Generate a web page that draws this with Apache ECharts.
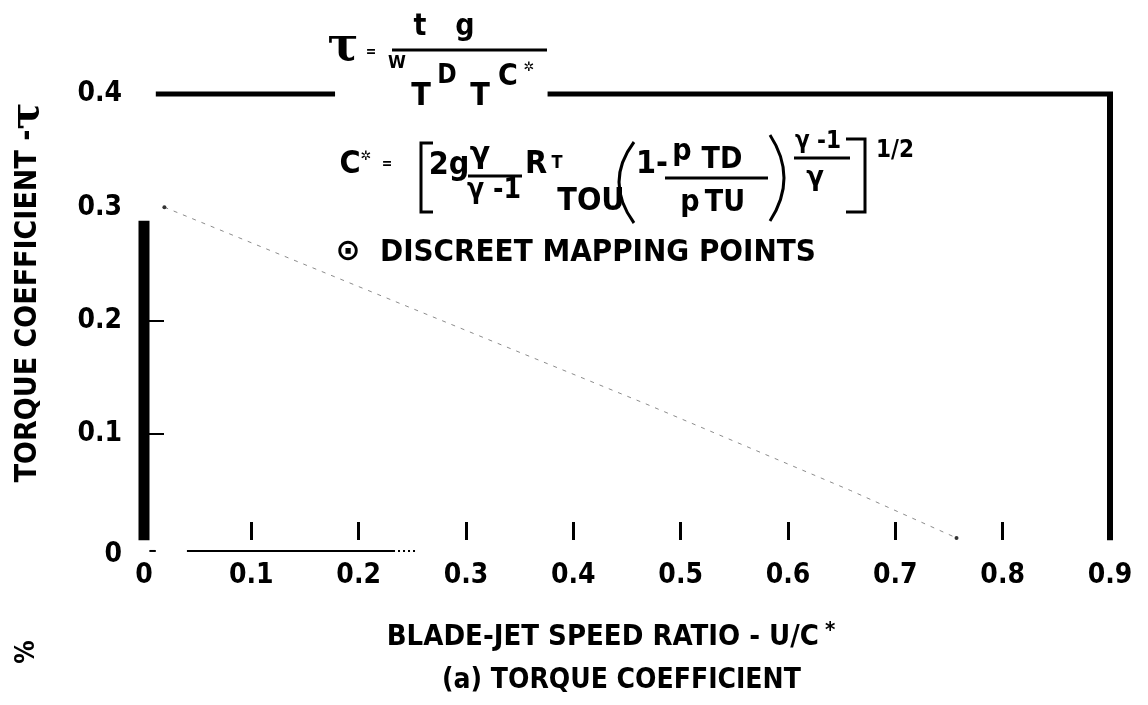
<!DOCTYPE html>
<html>
<head>
<meta charset="utf-8">
<script src="https://cdn.jsdelivr.net/npm/echarts@6/dist/echarts.min.js"></script>
<style>
html,body{margin:0;padding:0;background:#fff;}
#chart{width:1148px;height:705px;}
</style>
</head>
<body>
<div id="chart"></div>
<script>
// ---- data ----
const xTickValues = [0, 0.1, 0.2, 0.3, 0.4, 0.5, 0.6, 0.7, 0.8, 0.9];
const xTickLabels = ['0', '0.1', '0.2', '0.3', '0.4', '0.5', '0.6', '0.7', '0.8', '0.9'];
const yTickValues = [0, 0.1, 0.2, 0.3, 0.4];
const yTickLabels = ['0', '0.1', '0.2', '0.3', '0.4'];
const xMarkedTicks = [0.1, 0.2, 0.3, 0.4, 0.5, 0.6, 0.7, 0.8];
const yMarkedTicks = [0.1, 0.2];

// torque coefficient curve (U/C* vs tau)
const ucRatio = [0.019, 0.466, 0.658, 0.757];
const torqueCoef = [0.300, 0.127, 0.050, 0.008];

// frame segments drawn on the plot (data coordinates)
const frameLeft = [[0, 0.006], [0, 0.288]];
const frameTopA = [[0.011, 0.4], [0.178, 0.4]];
const frameTopB = [[0.376, 0.4], [0.904, 0.4]];
const frameRight = [[0.9, 0.4], [0.9, 0.006]];
const baseSolid = [[0.040, -0.0035], [0.232, -0.0035]];
const baseDotted = [[0.232, -0.0035], [0.254, -0.0035]];
const baseStub = [[0.005, -0.0035], [0.011, -0.0035]];

// ---- rendering ----
const FONT = '"DejaVu Sans Condensed","DejaVu Sans",sans-serif';
const NUMFONT = '"DejaVu Sans Condensed","DejaVu Sans",sans-serif';

function T(text, x, y, size, fam, weight, align) {
  const f = (weight ? weight + ' ' : '') + size + 'px ' + (fam || FONT);
  const a = align || 'center';
  return { type: 'text', x: x, y: y, silent: true, z: 10,
    style: { text: text, fill: '#000', font: f, textAlign: a, textVerticalAlign: 'middle', align: a, verticalAlign: 'middle' } };
}
function L(x1, y1, x2, y2, w) {
  return { type: 'line', silent: true, z: 10, shape: { x1: x1, y1: y1, x2: x2, y2: y2 }, style: { stroke: '#000', lineWidth: w || 3 } };
}
function P(points, w) {
  return { type: 'polyline', silent: true, z: 10, shape: { points: points }, style: { stroke: '#000', fill: null, lineWidth: w || 3 } };
}
function B(x1, y1, x2, y2, cx, cy, w) {
  return { type: 'bezierCurve', silent: true, z: 10, shape: { x1: x1, y1: y1, x2: x2, y2: y2, cpx1: cx, cpy1: cy }, style: { stroke: '#000', fill: null, lineWidth: w || 3 } };
}

const graphics = [
  // tau = t g / (W_T D_T C*)
  T('τ', 343, 48, 46, '"DejaVu Serif"', 'bold'),
  T('=', 371, 52, 14, NUMFONT, 'bold'),
  T('t', 420, 27, 30, null, 'bold'),
  T('g', 465, 27, 30, null, 'bold'),
  L(392, 50, 547, 50, 3),
  T('W', 397, 63, 18, null, 'bold'),
  T('T', 421, 97, 32, null, 'bold'),
  T('D', 447, 76, 26, null, 'bold'),
  T('T', 480, 97, 32, null, 'bold'),
  T('C', 508, 77, 30, null, 'bold'),
  T('✲', 529, 68, 13, '"DejaVu Sans"'),
  // C* = [ ... ]^1/2
  T('C', 350, 165, 32, null, 'bold'),
  T('✲', 366, 157, 13, '"DejaVu Sans"'),
  T('=', 387, 164, 14, NUMFONT, 'bold'),
  P([[433, 143], [421, 143], [421, 212], [433, 212]], 3),
  T('2g', 449, 166, 32, null, 'bold'),
  T('γ', 480, 155, 30, '"DejaVu Sans"', 'bold'),
  L(468, 176, 522, 176, 3),
  T('γ -1', 494, 191, 28, '"DejaVu Sans Condensed"', 'bold'),
  T('R', 536, 165, 32, null, 'bold'),
  T('T', 557, 163, 18, null, 'bold'),
  T('TOU', 591, 202, 32, null, 'bold'),
  B(634, 142, 634, 223, 604, 182, 3),
  T('1-', 652, 165, 32, null, 'bold'),
  T('p', 682, 152, 30, null, 'bold'),
  T('TD', 722, 160, 30, null, 'bold'),
  L(665, 178, 768, 178, 3),
  T('p', 690, 203, 30, null, 'bold'),
  T('TU', 725, 203, 30, null, 'bold'),
  B(770, 135, 770, 221, 798, 178, 3),
  T('γ -1', 818, 142, 24, '"DejaVu Sans Condensed"', 'bold'),
  L(794, 158, 850, 158, 3),
  T('γ', 815, 178, 26, '"DejaVu Sans"', 'bold'),
  P([[846, 139], [865, 139], [865, 212], [846, 212]], 3),
  T('1/2', 895, 151, 24, null, 'bold'),
  // legend
  T('⊙', 348, 252, 30, '"DejaVu Sans"', 'bold'),
  T('DISCREET MAPPING POINTS', 380, 253, 31, '"DejaVu Sans Condensed"', 'bold', 'left'),
  // fragment of the next panel's axis title at bottom-left
  { type: 'text', x: 27, y: 652, rotation: Math.PI / 2, silent: true,
    style: { text: '%', fill: '#000', font: 'bold 26px ' + FONT, textAlign: 'center', textVerticalAlign: 'middle', align: 'center', verticalAlign: 'middle' } }
];

function seg(data, width, type) {
  return { type: 'line', data: data, showSymbol: false, silent: true, animation: false, z: 5, clip: false,
    lineStyle: { color: '#000', width: width, type: type || 'solid', cap: 'butt' } };
}

const curveData = ucRatio.map((x, i) => ({
  value: [x, torqueCoef[i]],
  symbol: (i === 0 || i === ucRatio.length - 1) ? 'circle' : 'none',
  symbolSize: 4
}));

const chart = echarts.init(document.getElementById('chart'), null, { renderer: 'canvas' });
chart.setOption({
  backgroundColor: '#fff',
  animation: false,
  title: {
    text: '(a) TORQUE COEFFICIENT',
    left: 437, top: 662,
    textStyle: { fontFamily: FONT, fontSize: 28, fontWeight: 'bold', color: '#000' }
  },
  grid: { left: 140, right: 38, top: 94, bottom: 158, containLabel: false },
  xAxis: {
    type: 'value', min: 0, max: 0.9, interval: 0.1, offset: -7,
    axisLine: { show: false }, splitLine: { show: false },
    axisTick: { show: true, inside: true, length: 18, customValues: xMarkedTicks, lineStyle: { color: '#000', width: 3 } },
    axisLabel: {
      margin: 22, color: '#000', fontFamily: NUMFONT, fontSize: 28, fontWeight: 'bold',
      formatter: v => { const i = xTickValues.findIndex(t => Math.abs(t - v) < 1e-9); return i >= 0 ? xTickLabels[i] : ''; }
    },
    name: '{t|BLADE-JET SPEED RATIO - U/C}{s|*}',
    nameLocation: 'middle', nameGap: 80,
    nameTextStyle: {
      padding: [0, 32, 0, 0],
      rich: {
        t: { fontFamily: FONT, fontSize: 29, fontWeight: 'bold', color: '#000' },
        s: { fontFamily: NUMFONT, fontSize: 22, fontWeight: 'bold', color: '#000', verticalAlign: 'top', padding: [0, 0, 12, 6] }
      }
    }
  },
  yAxis: {
    type: 'value', min: 0, max: 0.4, interval: 0.1,
    axisLine: { show: false }, splitLine: { show: false },
    axisTick: { show: true, inside: true, length: 20, customValues: yMarkedTicks, lineStyle: { color: '#000', width: 2 } },
    axisLabel: {
      margin: 22, color: '#000', fontFamily: NUMFONT, fontSize: 28, fontWeight: 'bold',
      formatter: v => { const i = yTickValues.findIndex(t => Math.abs(t - v) < 1e-9); if (i < 0) return ''; return i === 0 ? '{z|' + yTickLabels[i] + '}' : yTickLabels[i]; },
      rich: { z: { fontFamily: NUMFONT, fontSize: 28, fontWeight: 'bold', color: '#000', padding: [16, 0, 0, 0] } }
    },
    name: '{t|TORQUE COEFFICIENT -}{u|τ}',
    nameLocation: 'middle', nameGap: 96, nameRotate: 90,
    nameTextStyle: {
      padding: [0, 0, 0, 56],
      rich: {
        t: { fontFamily: FONT, fontSize: 30, fontWeight: 'bold', color: '#000' },
        u: { fontFamily: '"DejaVu Serif"', fontWeight: 'bold', fontSize: 40, color: '#000' }
      }
    }
  },
  series: [
    {
      type: 'line', name: 'torque', data: curveData, z: 4, animation: false,
      lineStyle: { color: '#8c8c8c', width: 1, type: [4, 6] },
      itemStyle: { color: '#333' }
    },
    seg(frameLeft, 11),
    seg(frameTopA, 5),
    seg(frameTopB, 5),
    seg(frameRight, 6),
    seg(baseSolid, 2),
    seg(baseDotted, 2, [2, 3]),
    seg(baseStub, 2)
  ],
  graphic: graphics
});
</script>
</body>
</html>
